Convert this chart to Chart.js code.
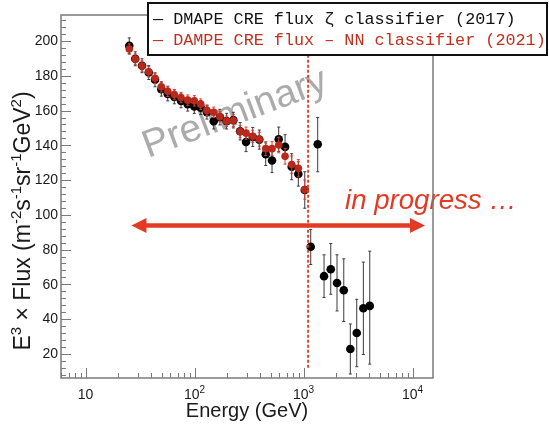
<!DOCTYPE html>
<html>
<head>
<meta charset="utf-8">
<script src="https://cdn.jsdelivr.net/npm/chart.js@4.4.0/dist/chart.umd.min.js"></script>
<style>
  html, body { margin: 0; padding: 0; background: #fff; }
  #wrap { width: 549px; height: 426px; position: relative; }
</style>
</head>
<body>
<div id="wrap"><canvas id="fluxChart"></canvas></div>
<script>
// ---- data ----
const energyBlack = [25.2, 28.6, 33.0, 38.0, 43.4, 49.6, 56.8, 65.3, 75.2, 86.6,
  99.6, 114, 130, 150, 171, 197, 227, 262, 297, 342,
  393, 450, 514, 592, 677, 779, 896, 1026,
  1164, 1349, 1542, 1777, 2028, 2339, 2687, 3076, 3538, 4049];
const fluxBlack = [197.3, 189.8, 185.8, 181.9, 177.7, 172.3, 169.6, 167.9, 165.6, 163.7,
  162.4, 161.7, 159.1, 153.9, 156.2, 153.9, 154.5, 148.1, 141.9, 144.8,
  143.3, 134.9, 131.3, 143.5, 139.1, 127.7, 123.5, 114.3,
  81.6, 140.6, 64.7, 68.7, 60.8, 56.6, 22.8, 32.0, 46.2, 47.6];
const errLoBlack = [4.5, 4, 4, 4, 4, 4, 4, 4, 4, 4,
  4, 4, 4, 4.5, 4.5, 4.5, 4.5, 5, 5.5, 5.5,
  5.5, 6.5, 7, 7, 7, 7.5, 7, 10.5,
  10.2, 15.8, 12.3, 14.4, 16.1, 18, 14.4, 19.4, 26.6, 33.5];
const errHiBlack = [4.5, 4, 4, 4, 4, 4, 4, 4, 4, 4,
  4, 4, 4, 4.5, 4.5, 4.5, 4.5, 5, 5.5, 5.5,
  5.5, 6.5, 7, 7, 7, 7.5, 7, 10.5,
  10, 15.4, 12.3, 14.8, 16.2, 18.1, 14.4, 19.4, 26.6, 31.5];

const energyRed = [25.2, 28.6, 33.0, 38.0, 43.4, 49.6, 56.8, 65.3, 75.2, 86.6,
  99.6, 114, 130, 150, 171, 197, 227, 262, 297, 342,
  393, 450, 514, 592, 677, 779, 896, 1026];
const fluxRed = [195.4, 189.6, 185.6, 182.3, 178.6, 173.7, 171.1, 169.2, 167.5, 166,
  165.6, 163.7, 160.1, 159, 156.5, 153.9, 154.3, 147.9, 147, 145.2,
  143.5, 138.1, 138.1, 140.2, 133.7, 128.9, 126.8, 114.6];
const errRed = [3, 3, 3, 3, 3, 3, 3, 3, 3, 3,
  3, 3, 3, 3, 3, 3, 3.5, 3.5, 3.5, 3.5,
  4, 4, 4, 4.5, 4.5, 5, 5, 5.5];

const yTicks = [20, 40, 60, 80, 100, 120, 140, 160, 180, 200];
const xTickValues = [10, 100, 1000, 10000];
const xTickExp = ['', '2', '3', '4'];

const legendLines = [
  '\u2014 DMAPE CRE flux \u03b6 classifier (2017)',
  '\u2014 DAMPE CRE flux \u2013 NN classifier (2021)',
];

// annotations (data coordinates)
const cutEnergy = 1100;
const cutFluxRange = [12, 215];
const arrowEnergy = [26.4, 13000];
const arrowFlux = 93.8;

const RED_PT = '#b8281c';
const RED_LINE = '#e33a26';
const AXIS_GREY = '#7a7a7a';
const SANS = '"Liberation Sans", Arial, Helvetica, sans-serif';

// width of a run of text with superscripts
function richWidth(ctx, parts, size, supSize) {
  let w = 0;
  for (const p of parts) {
    ctx.font = (p.sup ? supSize : size) + 'px ' + SANS;
    w += ctx.measureText(p.t).width;
  }
  return w;
}
function paintRich(ctx, parts, x0, y0, size, supSize, supRise) {
  let x = x0;
  for (const p of parts) {
    ctx.font = (p.sup ? supSize : size) + 'px ' + SANS;
    ctx.fillText(p.t, x, p.sup ? y0 - supRise : y0);
    x += ctx.measureText(p.t).width;
  }
}

function drawErrors(chart, xs, ys, lo, hi, color, halfBin) {
  const { ctx, chartArea, scales } = chart;
  ctx.save();
  ctx.beginPath();
  ctx.rect(chartArea.left, chartArea.top, chartArea.right - chartArea.left, chartArea.bottom - chartArea.top);
  ctx.clip();
  ctx.strokeStyle = color;
  ctx.lineWidth = 1;
  for (let i = 0; i < xs.length; i++) {
    const px = scales.x.getPixelForValue(xs[i]);
    const py = scales.y.getPixelForValue(ys[i]);
    const p0 = scales.y.getPixelForValue(ys[i] - lo[i]);
    const p1 = scales.y.getPixelForValue(ys[i] + hi[i]);
    ctx.beginPath();
    ctx.moveTo(px, p0); ctx.lineTo(px, p1);
    ctx.moveTo(px - 1.5, p0); ctx.lineTo(px + 1.5, p0);
    ctx.moveTo(px - 1.5, p1); ctx.lineTo(px + 1.5, p1);
    if (halfBin) {
      ctx.moveTo(px - halfBin, py); ctx.lineTo(px + halfBin, py);
    }
    ctx.stroke();
  }
  ctx.restore();
}

const rootStyle = {
  id: 'rootStyle',
  beforeDatasetsDraw(chart) {
    const { ctx } = chart;
    // Preliminary watermark
    ctx.save();
    ctx.translate(148, 158);
    ctx.rotate(-0.358);
    ctx.font = '38px ' + SANS;
    const w = ctx.measureText('Preliminary').width;
    const fs = 38 * 194 / w;
    ctx.font = fs + 'px ' + SANS;
    ctx.fillStyle = '#ababab';
    ctx.textBaseline = 'alphabetic';
    ctx.fillText('Preliminary', 0, 0);
    ctx.restore();
  },
  beforeDatasetDraw(chart, args) {
    if (args.index === 0) {
      drawErrors(chart, energyBlack, fluxBlack, errLoBlack, errHiBlack, '#3a3a3a', 0);
    } else {
      drawErrors(chart, energyRed, fluxRed, errRed, errRed, '#d8402e', 3.2);
    }
  },
  afterDatasetsDraw(chart) {
    const { ctx, chartArea: a, scales } = chart;
    const xs = scales.x, ys = scales.y;

    // vertical dashed cut line
    ctx.save();
    ctx.strokeStyle = RED_LINE;
    ctx.lineWidth = 1.8;
    ctx.setLineDash([3, 2]);
    const cx = xs.getPixelForValue(cutEnergy);
    ctx.beginPath();
    ctx.moveTo(cx, ys.getPixelForValue(cutFluxRange[0]));
    ctx.lineTo(cx, ys.getPixelForValue(cutFluxRange[1]));
    ctx.stroke();
    ctx.restore();

    // double arrow
    ctx.save();
    const ax0 = xs.getPixelForValue(arrowEnergy[0]);
    const ax1 = xs.getPixelForValue(arrowEnergy[1]);
    const ay = ys.getPixelForValue(arrowFlux);
    const hl = 15, hw = 7.5;
    ctx.strokeStyle = RED_LINE;
    ctx.fillStyle = RED_LINE;
    ctx.lineWidth = 4.5;
    ctx.beginPath();
    ctx.moveTo(ax0 + hl - 2, ay); ctx.lineTo(ax1 - hl + 2, ay);
    ctx.stroke();
    ctx.beginPath();
    ctx.moveTo(ax0, ay); ctx.lineTo(ax0 + hl, ay - hw); ctx.lineTo(ax0 + hl, ay + hw); ctx.closePath();
    ctx.moveTo(ax1, ay); ctx.lineTo(ax1 - hl, ay - hw); ctx.lineTo(ax1 - hl, ay + hw); ctx.closePath();
    ctx.fill();
    // in progress text
    ctx.font = 'italic 24px ' + SANS;
    const tw = ctx.measureText('in progress \u2026').width;
    ctx.font = 'italic ' + (24 * 172 / tw) + 'px ' + SANS;
    ctx.fillText('in progress \u2026', 345, 209);
    ctx.restore();

    // frame
    ctx.save();
    ctx.strokeStyle = AXIS_GREY;
    ctx.lineWidth = 1.5;
    ctx.strokeRect(a.left, a.top, a.right - a.left, a.bottom - a.top);
    ctx.lineWidth = 1;
    ctx.beginPath();
    // y ticks
    for (let v = 8; v <= 214; v += 4) {
      const py = Math.round(ys.getPixelForValue(v)) + 0.5;
      const len = v % 20 === 0 ? 10 : 5;
      ctx.moveTo(a.left, py); ctx.lineTo(a.left + len, py);
    }
    // x ticks (log)
    for (let d = 1; d <= 10000; d *= 10) {
      for (let m = 1; m <= 9; m++) {
        const v = m * d;
        if (v < xs.min || v > xs.max) continue;
        const px = Math.round(xs.getPixelForValue(v)) + 0.5;
        const len = m === 1 ? 10 : 5;
        ctx.moveTo(px, a.bottom); ctx.lineTo(px, a.bottom - len);
      }
    }
    ctx.stroke();

    // tick labels
    ctx.fillStyle = '#1a1a1a';
    ctx.font = '14px ' + SANS;
    ctx.textAlign = 'right';
    ctx.textBaseline = 'middle';
    yTicks.forEach((v) => ctx.fillText(String(v), a.left - 3, ys.getPixelForValue(v) + 0.5));
    ctx.textAlign = 'left';
    ctx.textBaseline = 'alphabetic';
    xTickValues.forEach((v, i) => {
      const parts = [{ t: '10' }];
      if (xTickExp[i]) parts.push({ t: xTickExp[i], sup: true });
      const w = richWidth(ctx, parts, 14, 10);
      paintRich(ctx, parts, xs.getPixelForValue(v) - w / 2, 399, 14, 10, 6);
    });

    // axis titles
    ctx.font = '20px ' + SANS;
    ctx.textAlign = 'center';
    ctx.fillText('Energy (GeV)', 247, 417);
    ctx.textAlign = 'left';
    const yParts = [
      { t: 'E' }, { t: '3', sup: true }, { t: ' \u00d7 Flux (m' }, { t: '-2', sup: true },
      { t: 's' }, { t: '-1', sup: true }, { t: 'sr' }, { t: '-1', sup: true },
      { t: 'GeV' }, { t: '2', sup: true }, { t: ')' },
    ];
    const yw = richWidth(ctx, yParts, 23, 15);
    ctx.translate(30, 221);
    ctx.rotate(-Math.PI / 2);
    paintRich(ctx, yParts, -yw / 2, 0, 23, 15, 9);
    ctx.restore();

    // legend box
    ctx.save();
    ctx.fillStyle = '#fff';
    ctx.fillRect(148, 3, 399, 52);
    ctx.strokeStyle = '#111';
    ctx.lineWidth = 2;
    ctx.strokeRect(148, 3, 399, 52);
    ctx.font = '16.8px "Liberation Mono", "DejaVu Sans Mono", monospace';
    ctx.textBaseline = 'middle';
    ctx.fillStyle = '#111';
    ctx.fillText(legendLines[0], 153, 20);
    ctx.fillStyle = '#c0301f';
    ctx.fillText(legendLines[1], 153, 41);
    ctx.restore();
  },
};

const blackPoints = energyBlack.map((e, i) => ({ x: e, y: fluxBlack[i] }));
const redPoints = energyRed.map((e, i) => ({ x: e, y: fluxRed[i] }));

new Chart(document.getElementById('fluxChart').getContext('2d'), {
  type: 'scatter',
  data: {
    datasets: [
      {
        label: 'DMAPE CRE flux \u03b6 classifier (2017)',
        data: blackPoints,
        backgroundColor: '#000',
        borderWidth: 0,
        pointRadius: 4.3,
        order: 2,
      },
      {
        label: 'DAMPE CRE flux - NN classifier (2021)',
        data: redPoints,
        backgroundColor: RED_PT,
        borderWidth: 0,
        pointRadius: 3.8,
        order: 1,
      },
    ],
  },
  options: {
    responsive: true,
    maintainAspectRatio: false,
    animation: false,
    layout: { padding: { left: 61, right: 116, top: 15, bottom: 48 } },
    plugins: { legend: { display: false }, tooltip: { enabled: false } },
    scales: {
      x: { type: 'logarithmic', min: 5.96, max: 15400, display: false },
      y: { type: 'linear', min: 6.1, max: 215, display: false },
    },
  },
  plugins: [rootStyle],
});
</script>
</body>
</html>
